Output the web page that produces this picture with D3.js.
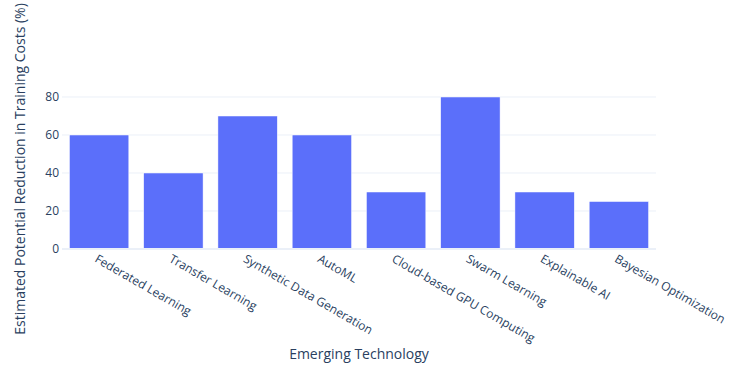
<!DOCTYPE html>
<html>
<head>
<meta charset="utf-8">
<script src="https://cdn.jsdelivr.net/npm/d3@7"></script>
<style>
    body { margin: 0; background: #fff; }
    text { font-family: "Open Sans", verdana, arial, sans-serif; fill: #2a3f5f; }
    .bar { fill: #5b6ffa; stroke: #fff; stroke-width: 0.5; }
    .grid line { stroke: #ebf0f8; stroke-width: 1; }
    .zeroline { stroke: #ebf0f8; stroke-width: 2; }
</style>
</head>
<body>
<div id="chart"></div>
<script>
const technologies = ["Federated Learning", "Transfer Learning", "Synthetic Data Generation", "AutoML",
    "Cloud-based GPU Computing", "Swarm Learning", "Explainable AI", "Bayesian Optimization"];
const reductions = [60, 40, 70, 60, 30, 80, 30, 25];
const yTicks = [0, 20, 40, 60, 80];

function init() {
    const w = 737;
    const h = 367;
    const margin = { left: 62, right: 81, top: 89, bottom: 118 };

    var svg = d3.select("#chart").append("svg").attr("width", w).attr("height", h);

    var xScale = d3.scaleBand()
        .domain(technologies)
        .range([margin.left, w - margin.right])
        .paddingInner(0.2)
        .paddingOuter(0.1);

    var yScale = d3.scaleLinear()
        .domain([0, 84.21])
        .range([h - margin.bottom, margin.top]);

    // gridlines
    svg.append("g")
        .attr("class", "grid")
        .selectAll("line")
        .data(yTicks.filter(d => d > 0))
        .enter().append("line")
        .attr("x1", margin.left)
        .attr("x2", w - margin.right)
        .attr("y1", d => yScale(d))
        .attr("y2", d => yScale(d));

    // bars
    svg.selectAll(".bar")
        .data(reductions)
        .enter().append("rect")
        .attr("class", "bar")
        .attr("x", (d, i) => xScale(technologies[i]))
        .attr("width", xScale.bandwidth())
        .attr("y", d => yScale(d))
        .attr("height", d => yScale(0) - yScale(d));

    svg.append("line")
        .attr("class", "zeroline")
        .attr("x1", margin.left)
        .attr("x2", w - margin.right)
        .attr("y1", yScale(0))
        .attr("y2", yScale(0));

    // y tick labels
    svg.append("g")
        .selectAll("text")
        .data(yTicks)
        .enter().append("text")
        .attr("x", margin.left - 3)
        .attr("y", d => yScale(d))
        .attr("dy", "0.35em")
        .attr("text-anchor", "end")
        .style("font-size", "12px")
        .text(d => d);

    // x tick labels, rotated
    svg.append("g")
        .selectAll("text")
        .data(technologies)
        .enter().append("text")
        .attr("transform", d => "translate(" + (xScale(d) + xScale.bandwidth() / 2 - 1) + "," + (yScale(0) + 5) + ") rotate(30)")
        .attr("dy", "0.7em")
        .attr("text-anchor", "start")
        .style("font-size", "12px")
        .text(d => d);

    // axis titles
    svg.append("text")
        .attr("x", (margin.left + w - margin.right) / 2)
        .attr("y", 359)
        .attr("text-anchor", "middle")
        .style("font-size", "14px")
        .text("Emerging Technology");

    svg.append("text")
        .attr("transform", "translate(25," + ((margin.top + h - margin.bottom) / 2) + ") rotate(-90)")
        .attr("text-anchor", "middle")
        .style("font-size", "14px")
        .text("Estimated Potential Reduction in Training Costs (%)");
}

window.onload = init();
</script>
</body>
</html>
